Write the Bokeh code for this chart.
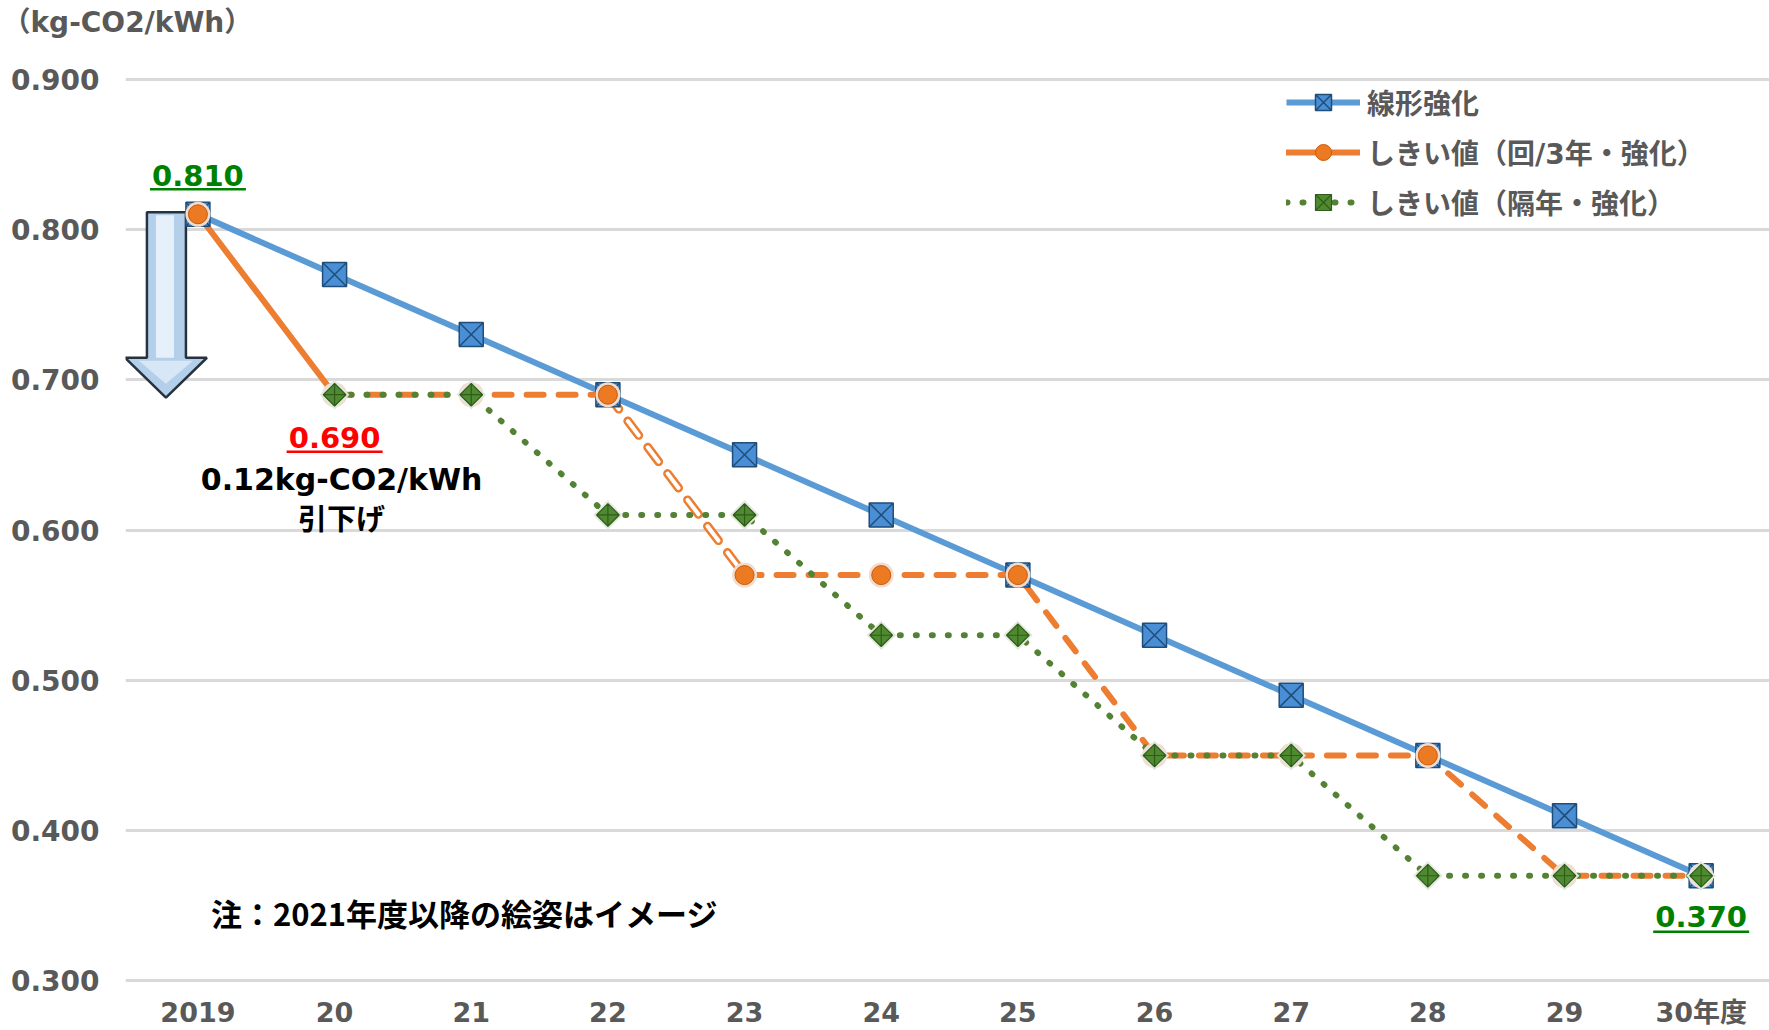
import numpy as np
from bokeh.plotting import figure
from bokeh.models import (Range1d, FixedTicker, NumeralTickFormatter, Label,
                          Legend, LegendItem, Title)
from bokeh.embed import file_html
from bokeh.resources import INLINE

# ---------------- data ----------------
years = ["2019", "20", "21", "22", "23", "24", "25", "26", "27", "28", "29", "30年度"]
linear = [0.81, 0.77, 0.73, 0.69, 0.65, 0.61, 0.57, 0.53, 0.49, 0.45, 0.41, 0.37]
thr3 = [0.81, 0.69, 0.69, 0.69, 0.57, 0.57, 0.57, 0.45, 0.45, 0.45, 0.37, 0.37]
thr2_years = ["20", "21", "22", "23", "24", "25", "26", "27", "28", "29", "30年度"]
thr2 = [0.69, 0.69, 0.61, 0.61, 0.53, 0.53, 0.45, 0.45, 0.37, 0.37, 0.37]
y_ticks = [0.3, 0.4, 0.5, 0.6, 0.7, 0.8, 0.9]
series_names = ["線形強化", "しきい値（回/3年・強化）", "しきい値（隔年・強化）"]
unit_label = "（kg-CO2/kWh）"
note_text = "注：2021年度以降の絵姿はイメージ"
drop_text = ["0.12kg-CO2/kWh", "引下げ"]

idx = {y: i for i, y in enumerate(years)}
x_all = [idx[y] for y in years]
x_thr2 = [idx[y] for y in thr2_years]

# ---------------- layout ----------------
W, H = 1769, 1030
BL, BR, BT, BB = 125, 0, 77, 47
X0, X1 = -0.53, 11.5
Y0, Y1 = 0.299, 0.901
PX = (W - BL - BR) / (X1 - X0)   # pixels per x unit
PY = (H - BT - BB) / (Y1 - Y0)   # pixels per y unit

GRAY = "#595959"
BLUE = "#5B9BD5"
ORANGE = "#ED7D31"
GREEN = "#548235"
FONT = "DejaVu Sans, Noto Sans CJK JP"

p = figure(width=W, height=H, output_backend="svg", toolbar_location=None,
           x_range=Range1d(X0, X1), y_range=Range1d(Y0, Y1),
           min_border_left=BL, min_border_right=BR,
           min_border_top=BT, min_border_bottom=BB)
p.outline_line_color = None
p.background_fill_color = "white"
p.border_fill_color = "white"

# unit label as a title at the top-left, with an empty spacer title below it
p.title.text = ""
p.title.standoff = 0
spacer = Title(text=" ", text_font_size="1px", standoff=36)
p.add_layout(spacer, "above")
p.add_layout(Title(text=unit_label, align="left", offset=-123, standoff=0,
                   text_font=FONT, text_font_style="bold",
                   text_font_size="28px", text_color=GRAY), "above")

# axes
xt = FixedTicker(ticks=x_all)
p.xaxis.ticker = xt
p.xaxis.major_label_overrides = {i: lab for i, lab in zip(x_all, years)}
yt = FixedTicker(ticks=y_ticks)
p.yaxis.ticker = yt
p.ygrid.ticker = yt
p.yaxis.formatter = NumeralTickFormatter(format="0.000")
for ax in (p.xaxis, p.yaxis):
    ax.axis_line_color = None
    ax.major_tick_line_color = None
    ax.minor_tick_line_color = None
    ax.major_tick_out = 0
    ax.major_tick_in = 0
    ax.major_label_text_font = FONT
    ax.major_label_text_font_style = "bold"
    ax.major_label_text_color = GRAY
p.xaxis.major_label_text_font_size = "27px"
p.yaxis.major_label_text_font_size = "28px"
p.xaxis.major_label_standoff = 14
p.yaxis.major_label_standoff = 26
p.xgrid.visible = False
p.ygrid.grid_line_color = "#d9d9d9"
p.ygrid.grid_line_width = 3

# ---------------- arrow (decoration) ----------------
def dx(px):
    return px / PX

def dy(px):
    return px / PY

ax0 = x_all[0]
sl, sr, hl, hr, tx = dx(-51), dx(-12), dx(-73), dx(9), dx(-32)
top = thr3[0] + dy(2)
headtop = thr3[1] + dy(37)
tip = thr3[1] - dy(3)
p.patch([ax0 + v for v in (sl, sr, sr, hr, tx, hl, sl)],
        [top, top, headtop, headtop, tip, headtop, headtop],
        fill_color="#b4cfea", line_color="#26323f", line_width=2.5)
p.patch([ax0 + v for v in (sl + dx(9), sr - dx(12), sr - dx(12), sl + dx(9))],
        [top - dy(3), top - dy(3), headtop, headtop],
        fill_color="#e6f0fa", line_color=None)
p.patch([ax0 + v for v in (hl + dx(14), hr - dx(14), tx)],
        [headtop - dy(3), headtop - dy(3), tip + dy(14)],
        fill_color="#d7e7f6", line_color=None)

# ---------------- lines ----------------
b_line = p.line(x_all, linear, line_color=BLUE, line_width=6)
o_solid = p.line(x_all[:2], thr3[:2], line_color=ORANGE, line_width=6, line_cap="round")
p.line(x_all[1:4], thr3[1:4], line_color=ORANGE, line_width=6,
       line_dash="17 15", line_cap="round")
p.line(x_all[3:5], thr3[3:5], line_color=ORANGE, line_width=9,
       line_dash="18 15", line_cap="round")
p.line(x_all[3:5], thr3[3:5], line_color="white", line_width=4,
       line_dash="18 15", line_cap="round")
p.line(x_all[4:], thr3[4:], line_color=ORANGE, line_width=6,
       line_dash="17 15", line_cap="round")
g_line = p.line(x_thr2, thr2, line_color=GREEN, line_width=6,
                line_dash="1 15", line_cap="round")

# ---------------- markers ----------------
b_m = p.scatter(x_all, linear, marker="square_x", size=24,
                fill_color="#4a8fd6", line_color="#1f4e79", line_width=1.5)
p.scatter(x_all, thr3, marker="circle", size=25, fill_color="#f3dccb",
          line_color=None)
o_m = p.scatter(x_all, thr3, marker="circle", size=19, fill_color="#ec7a22",
                line_color="#c85a0c", line_width=1)
p.scatter(x_thr2, thr2, marker="square", angle=np.pi / 4, size=21,
          fill_color="#e2e8dc", line_color=None)
g_m = p.scatter(x_thr2, thr2, marker="square_x", angle=np.pi / 4, size=16,
                fill_color="#4f8a30", line_color="#2f5c1a", line_width=1.2)

# ---------------- legend ----------------
legend = Legend(items=[
    LegendItem(label=series_names[0], renderers=[b_line, b_m]),
    LegendItem(label=series_names[1], renderers=[o_solid, o_m]),
    LegendItem(label=series_names[2], renderers=[g_line, g_m]),
], location=(1161, 760))
legend.padding = 0
legend.margin = 0
legend.spacing = 10
legend.glyph_width = 74
legend.glyph_height = 40
legend.label_height = 40
legend.label_standoff = 7
legend.label_text_font = FONT
legend.label_text_font_style = "bold"
legend.label_text_font_size = "28px"
legend.label_text_color = GRAY
legend.background_fill_alpha = 0
legend.border_line_color = None
p.add_layout(legend)

# ---------------- text annotations ----------------
def value_label(xv, yv, color, off, uoff):
    p.add_layout(Label(x=xv, y=yv, text=f"{yv:.3f}", y_offset=off,
                       text_align="center", text_baseline="middle",
                       text_color=color, text_font="DejaVu Sans",
                       text_font_style="bold", text_font_size="29px"))
    p.segment(x0=[xv - dx(48)], x1=[xv + dx(48)], y0=[yv + dy(uoff)],
              y1=[yv + dy(uoff)], line_color=color, line_width=2.5)

value_label(x_all[0], linear[0], "#008000", 39, 25)
value_label(x_all[1], thr3[1], "#ff0000", -43, -57)
value_label(x_all[-1], linear[-1], "#008000", -41, -56)

p.add_layout(Label(x=x_all[1], y=thr3[1], x_offset=7, y_offset=-85,
                   text=drop_text[0], text_align="center", text_baseline="middle",
                   text_color="black", text_font=FONT, text_font_style="bold",
                   text_font_size="30px"))
p.add_layout(Label(x=x_all[1], y=thr3[1], x_offset=7, y_offset=-122,
                   text=drop_text[1], text_align="center", text_baseline="middle",
                   text_color="black", text_font="Noto Sans CJK JP",
                   text_font_style="bold", text_font_size="29px"))
p.add_layout(Label(x=x_all[0], y=y_ticks[0], x_offset=13, y_offset=68,
                   text=note_text, text_align="left", text_baseline="middle",
                   text_color="black", text_font="Noto Sans CJK JP",
                   text_font_style="bold", text_font_size="31px"))

open("out.html", "w").write(file_html(p, INLINE))
